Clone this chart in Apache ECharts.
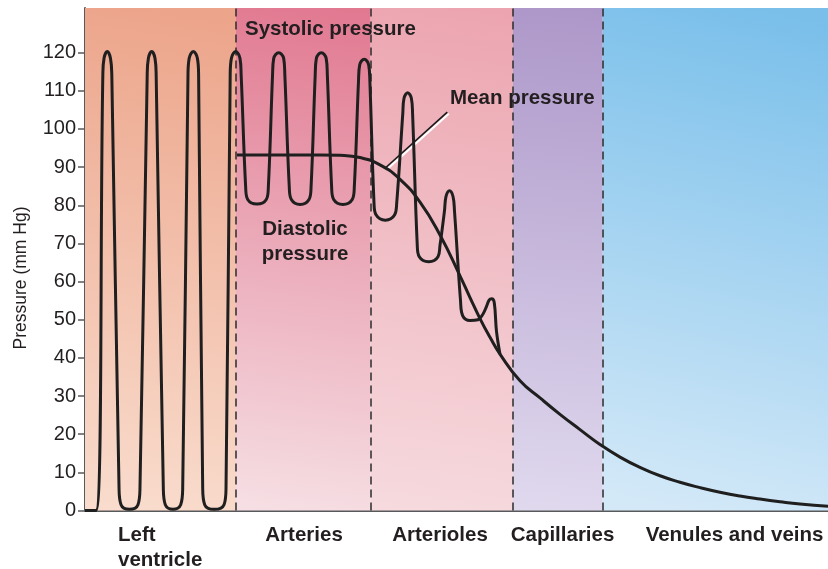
<!DOCTYPE html>
<html>
<head>
<meta charset="utf-8">
<script src="https://cdn.jsdelivr.net/npm/echarts@6/dist/echarts.min.js"></script>
<style>
  html, body { margin: 0; padding: 0; background: #ffffff; }
  #chart { width: 828px; height: 569px; }
</style>
</head>
<body>
<div id="chart"></div>
<script>
// Vessel segments along the circulation (relative distance 0–100)
const segmentNames = ['Left\nventricle', 'Arteries', 'Arterioles', 'Capillaries', 'Venules and veins'];
const segmentBounds = [0, 20.32, 38.45, 57.60, 69.68, 100];
const segmentTopColors = ['#eca48a', '#e17991', '#eca5b0', '#ad97c9', '#79bfea'];
const segmentBottomColors = ['#f9dccd', '#f6dfe4', '#f6dade', '#e0d9ee', '#d4e9f8'];

// Pressure axis ticks (mm Hg)
const pressureTicks = [0, 10, 20, 30, 40, 50, 60, 70, 80, 90, 100, 110, 120];

// Pulsatile pressure trace: [distance, mm Hg]
const pulseTrace = [
  [0, 0], [1.48, 0],
  [2.40, 114], [2.56, 118.5], [3.00, 120.3], [3.43, 118.5], [3.61, 114],
  [4.58, 6], [4.85, 1.5], [5.99, 0.3], [7.13, 1.5], [7.40, 6],
  [8.37, 114], [8.53, 118.5], [8.98, 120.3], [9.42, 118.5], [9.58, 114],
  [10.54, 6], [10.81, 1.5], [11.84, 0.3], [12.88, 1.5], [13.15, 6],
  [13.86, 114], [14.02, 118.5], [14.58, 120.3], [15.13, 118.5], [15.29, 114],
  [15.84, 6], [16.11, 1.5], [17.40, 0.3], [18.71, 1.5], [18.98, 6],
  [19.54, 114], [19.70, 118.5], [20.28, 120.3], [20.86, 118.5], [21.02, 114],
  [21.63, 84.5], [21.90, 81.5], [23.15, 80.3], [24.40, 81.5], [24.67, 84.5],
  [25.24, 114], [25.40, 118.5], [26.07, 120], [26.74, 118.5], [26.90, 114],
  [27.50, 84.5], [27.77, 81.5], [28.96, 80.2], [30.15, 81.5], [30.42, 84.5],
  [30.98, 114], [31.14, 118.5], [31.80, 120], [32.46, 118.5], [32.62, 114],
  [33.20, 84.5], [33.47, 81.5], [34.72, 80.2], [35.97, 81.5], [36.24, 84.5],
  [36.81, 112.5], [36.97, 116.8], [37.58, 118.3], [38.18, 116.8], [38.34, 112.5],
  [38.90, 80.5], [39.17, 77.5], [40.42, 76.1], [41.68, 77.5], [41.95, 80.5],
  [42.77, 104], [42.93, 108], [43.43, 109.5], [43.93, 108], [44.09, 104],
  [44.72, 69.5], [44.99, 66.5], [46.26, 65.2], [47.51, 66.5], [47.78, 69.5],
  [48.38, 78.5], [48.59, 82.3], [49.06, 83.8], [49.53, 82.3], [49.73, 78.5],
  [50.54, 55], [50.84, 51], [51.82, 49.8], [52.89, 50], [53.57, 51.5],
  [54.04, 53.5], [54.41, 55.2], [54.74, 55.5], [55.08, 54.5], [55.38, 47],
  [55.85, 41]
];

// Mean pressure: [distance, mm Hg]
const meanTrace = [
  [20.46, 93.2], [23.55, 93.2], [26.24, 93.2], [28.94, 93.2], [31.63, 93.2],
  [34.32, 93.1], [37.01, 92.5], [39.70, 90.6], [42.40, 86.8], [45.09, 80.8],
  [47.78, 72.2], [50.47, 61.5], [51.82, 55.8], [53.16, 50.3], [54.51, 45.4],
  [55.85, 41.0], [58.55, 34.0], [61.24, 29.5], [63.93, 25.2], [66.62, 21.2],
  [69.31, 17.3], [72.01, 14.0], [74.70, 11.3], [77.39, 9.1], [80.08, 7.4],
  [82.77, 6.0], [85.46, 4.8], [88.16, 3.8], [90.85, 3.0], [93.54, 2.3],
  [96.23, 1.7], [100, 1.1]
];

// Leader from the mean curve to its label, plus its light edge
const leaderLine = [[40.38, 89.7], [48.76, 104.4]];
const leaderEdge = [[40.58, 89.3], [48.96, 104.0]];

const TEXT = '#231f20';
const FONT = '"Liberation Sans", Arial, Helvetica, sans-serif';

const chart = echarts.init(document.getElementById('chart'), null, { renderer: 'canvas' });

const regionAreas = segmentNames.map((name, i) => [
  {
    xAxis: segmentBounds[i],
    itemStyle: {
      opacity: 1,
      color: {
        type: 'linear', x: 0.75, y: 0, x2: 0.25, y2: 1,
        colorStops: [
          { offset: 0, color: segmentTopColors[i] },
          { offset: 1, color: segmentBottomColors[i] }
        ]
      }
    }
  },
  { xAxis: segmentBounds[i + 1] }
]);

const boundaryLines = segmentBounds.slice(1, -1).map(x => ({ xAxis: x }));

chart.setOption({
  animation: false,
  grid: { left: 85, right: 0, top: 8, bottom: 58.5, containLabel: false },
  xAxis: {
    type: 'value', min: 0, max: 100,
    axisLine: { show: true, onZero: false, lineStyle: { color: '#58595b', width: 2 } },
    axisTick: { show: false },
    axisLabel: { show: false },
    splitLine: { show: false }
  },
  yAxis: {
    type: 'value', min: 0, max: 131.7, interval: 10,
    axisLine: { show: true, lineStyle: { color: '#58595b', width: 2 } },
    axisTick: { show: true, length: 7, customValues: pressureTicks, lineStyle: { color: '#58595b', width: 1.5 } },
    axisLabel: {
      customValues: pressureTicks, margin: 9,
      color: TEXT, fontSize: 20, fontFamily: FONT
    },
    splitLine: { show: false }
  },
  series: [
    {
      name: 'regions', type: 'line', data: [], z: 1,
      markArea: { silent: true, data: regionAreas },
      markLine: {
        silent: true, symbol: 'none', label: { show: false },
        lineStyle: { color: '#2b2b2b', width: 1.5, type: [8, 5] },
        data: boundaryLines
      }
    },
    {
      name: 'leader-edge', type: 'line', z: 3, symbol: 'none',
      data: leaderEdge,
      lineStyle: { color: '#ffffff', width: 2 }
    },
    {
      name: 'leader', type: 'line', z: 4, symbol: 'none',
      data: leaderLine,
      lineStyle: { color: '#1a1a1a', width: 1.6 }
    },
    {
      name: 'Mean pressure', type: 'line', z: 5, symbol: 'none', smooth: 0.5,
      data: meanTrace,
      lineStyle: { color: '#1f1f1f', width: 3 }
    },
    {
      name: 'Pressure', type: 'line', z: 6, symbol: 'none', smooth: 0.4,
      data: pulseTrace,
      lineStyle: { color: '#1f1f1f', width: 3, join: 'round' }
    }
  ]
});

// Text annotations anchored in data coordinates
const annotations = [
  { text: 'Systolic pressure', at: [21.53, 126.2], align: 'left' },
  { text: 'Mean pressure', at: [49.13, 107.9], align: 'left' },
  { text: 'Diastolic\npressure', at: [29.61, 70.4], align: 'center' },
  { text: segmentNames[0], at: [4.44, -9.9], align: 'left' },
  { text: segmentNames[1], at: [29.48, -6.6], align: 'center' },
  { text: segmentNames[2], at: [47.78, -6.6], align: 'center' },
  { text: segmentNames[3], at: [64.27, -6.6], align: 'center' },
  { text: segmentNames[4], at: [87.42, -6.6], align: 'center' }
];

const graphics = annotations.map(a => {
  const p = chart.convertToPixel({ gridIndex: 0 }, a.at);
  return {
    type: 'text', x: p[0], y: p[1], z: 100,
    style: {
      text: a.text, fill: TEXT, font: 'bold 20.5px ' + FONT,
      lineHeight: 25, align: a.align, verticalAlign: 'middle'
    }
  };
});

graphics.push({
  type: 'text', x: 21, y: 278, rotation: Math.PI / 2, z: 100,
  style: {
    text: 'Pressure (mm Hg)', fill: TEXT, font: '17.5px ' + FONT,
    align: 'center', verticalAlign: 'middle'
  }
});

chart.setOption({ graphic: graphics });
</script>
</body>
</html>
